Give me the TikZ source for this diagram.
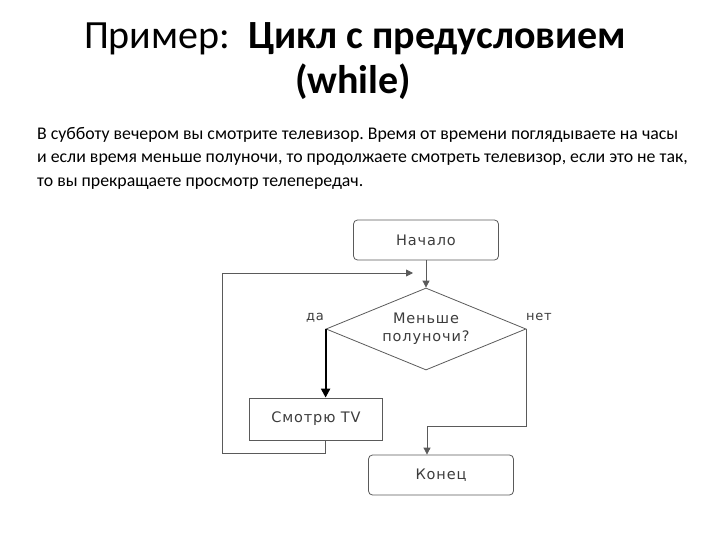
\documentclass[tikz,border=0pt]{standalone}
\usepackage{fontspec}
\setmainfont{Carlito}
\newfontfamily\chartfont[LetterSpace=6]{DejaVu Sans}
\usetikzlibrary{arrows.meta, shapes.geometric, positioning}
\frenchspacing
\definecolor{fcLine}{HTML}{5A5A5A}
\definecolor{fcText}{HTML}{3C3C3C}
\tikzset{
  fcnode/.style={
    draw=fcLine, line width=0.8pt, inner sep=0pt, align=center,
    font=\chartfont\fontsize{14.5}{18}\selectfont, text=fcText
  },
  terminal/.style={fcnode, rounded corners=4pt, minimum width=145pt, minimum height=40pt},
  action/.style={fcnode, minimum width=133pt, minimum height=42pt},
  decision/.style={fcnode, diamond, aspect=2.4, minimum width=200pt, minimum height=82pt},
  flow/.style={-{Triangle[length=7pt, width=7pt]}, draw=fcLine, line width=0.8pt},
  yesflow/.style={flow, draw=black, line width=2.2pt, -{Triangle[length=9pt, width=9pt]}},
  branch/.style={font=\chartfont\fontsize{13}{15}\selectfont, text=fcText},
  heading/.style={font=\fontsize{40}{45}\selectfont, anchor=base},
  story/.style={font=\fontsize{17.8}{23.6}\selectfont, align=left, anchor=north west, inner sep=0pt}
}
\begin{document}
\begin{tikzpicture}[x=1pt, y=-1pt]
  \useasboundingbox (0,0) rectangle (720,540);
  % title and task
  \node[heading] (title) at (355,49) {Пример:\ \ \textbf{Цикл с предусловием}};
  \node[heading] (titlewhile) at (353,94) {\textbf{(while)}};
  \node[story] (task) at (37,127) {В субботу вечером вы смотрите телевизор. Время от времени поглядываете на часы\\
    и если время меньше полуночи, то продолжаете смотреть телевизор, если это не так,\\
    то вы прекращаете просмотр телепередач.};
  % flowchart
  \node[terminal] (start) at (426,240) {Начало};
  \node[decision] (dec) at (426,329) {Меньше\\полуночи?};
  \node[action] (watch) at (316,419) {Смотрю TV};
  \node[terminal] (stop) at (441,475) {Конец};
  \node[branch] (yes) at (315,318) {да};
  \node[branch] (no) at (539,317) {нет};
  \coordinate (loopL) at (222,453);
  \coordinate (loopIn) at (413,273);
  \coordinate (noTurn) at (427,426);
  \draw[flow] (start) -- (dec);
  \draw[yesflow] (dec.west) -- (dec.west |- watch.north);
  \draw[flow] (dec.west |- watch.south) |- (loopL) |- (loopIn);
  \draw[flow] (dec.east) |- (noTurn) -- (noTurn |- stop.north);
\end{tikzpicture}
\end{document}
